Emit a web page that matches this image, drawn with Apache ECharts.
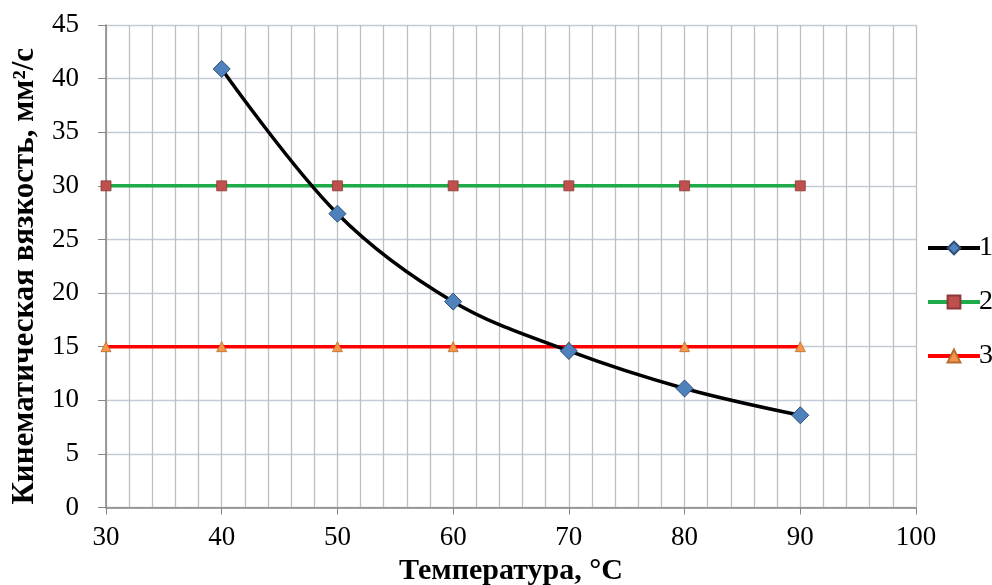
<!DOCTYPE html>
<html><head><meta charset="utf-8">
<script src="https://cdn.jsdelivr.net/npm/echarts@6/dist/echarts.min.js"></script>
<style>html,body{margin:0;padding:0;background:#fff}#c{width:992px;height:585px}</style>
</head><body><div id="c"></div>
<script>
const temps1 = [40, 50, 60, 70, 80, 90];
const visc1 = [40.9, 27.4, 19.2, 14.6, 11.1, 8.6];
const temps2 = [30, 40, 50, 60, 70, 80, 90];
const visc2 = [30, 30, 30, 30, 30, 30, 30];
const temps3 = [30, 40, 50, 60, 70, 80, 90];
const visc3 = [15, 15, 15, 15, 15, 15, 15];
const seriesNames = ['1', '2', '3'];
const xTitle = 'Температура, °С';
const yTitle = 'Кинематическая вязкость, мм²/с';

const zip = (a, b) => a.map((v, i) => [v, b[i]]);
const font = 'Liberation Serif';
const chart = echarts.init(document.getElementById('c'));
chart.setOption({
  animation: false,
  grid: { left: 106, right: 76, top: 25, bottom: 77.5, containLabel: false, outerBoundsMode: 'none' },
  legend: {
    orient: 'vertical', left: 921, top: 229, itemGap: 26,
    itemWidth: 52, itemHeight: 16,
    lineStyle: { width: 4 },
    textStyle: { fontFamily: font, fontSize: 28, color: '#000', padding: [0,0,0,-6] },
    data: seriesNames
  },
  xAxis: {
    type: 'value', min: 30, max: 100, interval: 10,
    name: xTitle, nameLocation: 'middle', nameGap: 44,
    nameTextStyle: { fontFamily: font, fontSize: 30, fontWeight: 'bold', color: '#000' },
    axisLine: { show: true, lineStyle: { color: '#868686', width: 1.5 } },
    axisTick: { show: true, length: 7, lineStyle: { color: '#868686' } },
    axisLabel: { fontFamily: font, fontSize: 27, color: '#000', margin: 17 },
    splitLine: { show: true, lineStyle: { color: '#bfbfbf', width: 1.3 } },
    minorTick: { show: false, splitNumber: 5 },
    minorSplitLine: { show: true, lineStyle: { color: '#bfbfbf', width: 1.3 } }
  },
  yAxis: {
    type: 'value', min: 0, max: 45, interval: 5,
    name: yTitle, nameLocation: 'middle', nameGap: 66, nameRotate: 90,
    nameTextStyle: { fontFamily: font, fontSize: 31, fontWeight: 'bold', color: '#000', padding: [0, 20, 0, 0] },
    axisLine: { show: true, lineStyle: { color: '#868686', width: 1.5 } },
    axisTick: { show: true, length: 8, lineStyle: { color: '#868686' } },
    axisLabel: { fontFamily: font, fontSize: 27, color: '#000', margin: 27 },
    splitLine: { show: true, lineStyle: { color: '#c3ccd6', width: 1.3 } }
  },
  series: [
    {
      name: seriesNames[0], type: 'line', smooth: 0.35,
      data: zip(temps1, visc1),
      symbol: 'diamond', symbolSize: 17,
      lineStyle: { color: '#000', width: 3.5 },
      itemStyle: { color: '#4f81bd', borderColor: '#2c4d75', borderWidth: 1 },
      z: 4
    },
    {
      name: seriesNames[1], type: 'line',
      data: zip(temps2, visc2),
      symbol: 'rect', symbolSize: 10,
      lineStyle: { color: '#1fab4a', width: 3.5 },
      itemStyle: { color: '#c0504d', borderColor: '#8c3836', borderWidth: 0.8 },
      z: 3
    },
    {
      name: seriesNames[2], type: 'line',
      data: zip(temps3, visc3),
      symbol: 'triangle', symbolSize: 10,
      lineStyle: { color: '#ff0000', width: 3.5 },
      itemStyle: { color: '#f79646', borderColor: '#b66d31', borderWidth: 0.8 },
      z: 3
    }
  ]
});
</script></body></html>
